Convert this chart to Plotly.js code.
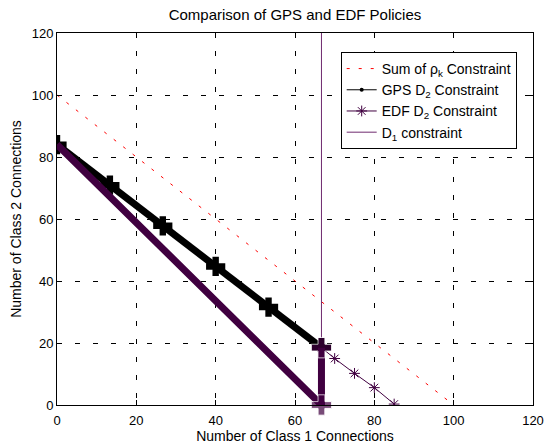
<!DOCTYPE html>
<html>
<head>
<meta charset="utf-8">
<script src="https://cdn.plot.ly/plotly-3.0.1.min.js"></script>
<style>html,body{margin:0;padding:0;background:#fff;}#chart{width:545px;height:446px;}</style>
</head>
<body>
<div id="chart"></div>
<script>
// Data
const rhoX = [0, 100];
const rhoY = [100, 0];
const gpsX = [0, 13.33, 26.67, 40, 53.33, 66.67];
const gpsY = [84, 70.9, 57.8, 44.7, 31.6, 18.5];
const edfBoundX = [0, 66.67, 66.67];
const edfBoundY = [84, 0, 18.5];
const edfTailX = [66.67, 70, 75, 80, 85];
const edfTailY = [18.5, 15, 10.2, 5.6, 0.3];
const d1X = [66.67, 66.67];
const d1Y = [0, 120];
const tickVals = [0, 20, 40, 60, 80, 100, 120];
const tickText = ['0', '20', '40', '60', '80', '100', '120'];

const purple = '#400040';
const font = 'Liberation Sans, Arial, sans-serif';

const traces = [
  {x: rhoX, y: rhoY, mode: 'lines', name: 'Sum of ρ<sub>k</sub> Constraint',
   line: {color: '#ff0000', width: 1, dash: '3px,9px'}},
  {x: gpsX, y: gpsY, mode: 'lines+markers', name: 'GPS D<sub>2</sub> Constraint',
   line: {color: '#000000', width: 1}, marker: {symbol: 'circle', size: 4, color: '#000000'}},
  {x: edfTailX, y: edfTailY, mode: 'lines+markers', name: 'EDF D<sub>2</sub> Constraint',
   line: {color: purple, width: 1}, marker: {symbol: 'asterisk-open', size: 9, color: purple, line: {color: purple, width: 1}}},
  {x: d1X, y: d1Y, mode: 'lines', name: 'D<sub>1</sub> constraint',
   line: {color: '#6e2a6e', width: 1}},
  {x: gpsX, y: gpsY, mode: 'lines+markers', showlegend: false, hoverinfo: 'skip',
   line: {color: '#000000', width: 7}, marker: {symbol: 'cross', size: 16, color: '#000000'}},
  {x: edfBoundX, y: edfBoundY, mode: 'lines+markers', showlegend: false, hoverinfo: 'skip', cliponaxis: false,
   line: {color: purple, width: 7}, marker: {symbol: 'cross', size: [0, 17, 17], color: purple}}
];

const axisCommon = {
  range: [0, 120], tickvals: tickVals, ticktext: tickText,
  ticks: 'inside', ticklen: 5, tickcolor: '#000', tickwidth: 1,
  showline: true, linecolor: '#000', linewidth: 1, mirror: 'ticks',
  showgrid: true, gridcolor: '#000', gridwidth: 1, griddash: '5px,13px',
  zeroline: false, tickfont: {family: font, size: 13, color: '#000'},
  fixedrange: true
};

const layout = {
  width: 545, height: 446,
  margin: {l: 57, r: 12, t: 33, b: 41},
  paper_bgcolor: '#fff', plot_bgcolor: '#fff',
  title: {text: 'Comparison of GPS and EDF Policies', font: {family: font, size: 15, color: '#000'},
          xref: 'paper', x: 0.5, xanchor: 'center', y: 0.966, yanchor: 'middle'},
  xaxis: Object.assign({}, axisCommon, {
    ticklabelstandoff: 3,
    title: {text: 'Number of Class 1 Connections', font: {family: font, size: 14, color: '#000'}, standoff: 0}
  }),
  yaxis: Object.assign({}, axisCommon, {
    title: {text: 'Number of Class 2 Connections', font: {family: font, size: 14, color: '#000'}, standoff: 6}
  }),
  legend: {x: 0.596, y: 0.949, xanchor: 'left', yanchor: 'top',
           bgcolor: '#fff', bordercolor: '#000', borderwidth: 1,
           font: {family: font, size: 14, color: '#000'}, tracegroupgap: 0},
  showlegend: true
};

Plotly.newPlot('chart', traces, layout, {displayModeBar: false, staticPlot: true});
</script>
</body>
</html>
